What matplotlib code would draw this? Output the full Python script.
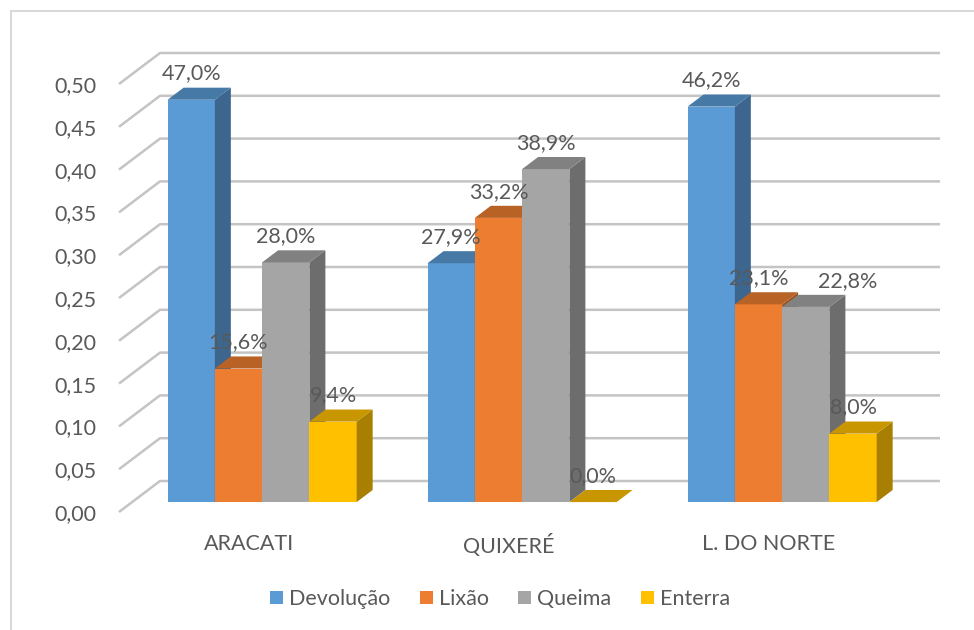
import matplotlib.pyplot as plt
import numpy as np
from matplotlib.patches import Polygon, Patch
from matplotlib.lines import Line2D

# survey data: share of answers per destination of empty containers
categories = ["ARACATI", "QUIXERÉ", "L. DO NORTE"]
series = ["Devolução", "Lixão", "Queima", "Enterra"]
devolucao = [0.470, 0.279, 0.462]
lixao = [0.156, 0.332, 0.231]
queima = [0.280, 0.389, 0.228]
enterra = [0.094, 0.000, 0.080]
yticks = [0.00, 0.05, 0.10, 0.15, 0.20, 0.25, 0.30, 0.35, 0.40, 0.45, 0.50]

values = [devolucao, lixao, queima, enterra]
colors = ["#5B9BD5", "#ED7D31", "#A5A5A5", "#FFC000"]

plt.rcParams['font.family'] = ['Lato', 'DejaVu Sans']
TXT = "#595959"
FS = 15.5

W, H = 974, 630
fig = plt.figure(figsize=(W / 100, H / 100), dpi=100)

# axes box in pixels: front plane from x=119, y=0 at 512
px_per_cat = 260.0
px_per_val = 856.0
x0_px, x1_px = 119, 940
y0_px, ytop_px = 512, 40
ax = fig.add_axes([x0_px / W, (H - y0_px) / H,
                   (x1_px - x0_px) / W, (y0_px - ytop_px) / H])
xmin = -0.5
xmax = xmin + (x1_px - x0_px) / px_per_cat
ax.set_xlim(xmin, xmax)
ax.set_ylim(0, (y0_px - ytop_px) / px_per_val)

# depth of the floor (front plane -> back wall) in data units
DX = 41 / px_per_cat
DY = 31 / px_per_val
# bars sit between these depth fractions
d_front, d_back = 0.32, 0.71


def shade(c, f):
    r, g, b = [int(c[i:i + 2], 16) for i in (1, 3, 5)]
    return (r * f / 255, g * f / 255, b * f / 255)


# back wall gridlines with the slanted part on the side wall
for v in yticks:
    ax.plot([xmin, xmin + DX, xmax], [v, v + DY, v + DY],
            color="#c4c4c4", lw=1.8, clip_on=False, zorder=1,
            solid_capstyle='butt')

n = len(series)
bw = 1.0 / (n + 1.5)
fx, fy = d_front * DX, d_front * DY
ddx, ddy = (d_back - d_front) * DX, (d_back - d_front) * DY

# nudge labels that would collide with a neighbour (points)
label_shift = {(2, 2): 30}

z = 2
for i in range(len(categories)):
    for j in range(n):
        v = values[j][i]
        c = colors[j]
        xl = i + (j - n / 2) * bw + fx
        xr = xl + bw
        yb = fy
        yt = yb + v
        ax.bar(xl, v, width=bw, bottom=yb, align='edge', color=c,
               linewidth=0, zorder=z)
        side = Polygon([(xr, yb), (xr + ddx, yb + ddy), (xr + ddx, yt + ddy), (xr, yt)],
                       closed=True, facecolor=shade(c, 0.66), lw=0, zorder=z)
        top = Polygon([(xl, yt), (xr, yt), (xr + ddx, yt + ddy), (xl + ddx, yt + ddy)],
                      closed=True, facecolor=shade(c, 0.78), lw=0, zorder=z)
        ax.add_patch(side)
        ax.add_patch(top)
        z += 1
        label = f"{v * 100:.1f}%".replace('.', ',')
        ax.annotate(label, (xl + bw / 2, yt + ddy),
                    xytext=(label_shift.get((i, j), 0), 3),
                    textcoords='offset points', ha='center', va='bottom',
                    fontsize=FS, color=TXT, zorder=50)

ax.set_yticks(yticks)
ax.set_yticklabels([f"{t:.2f}".replace('.', ',') for t in yticks])
ax.set_xticks(range(len(categories)))
ax.set_xticklabels(categories)
ax.tick_params(axis='y', length=0, pad=16, labelsize=FS, labelcolor=TXT)
ax.tick_params(axis='x', length=0, pad=16, labelsize=FS, labelcolor=TXT)
for s in ax.spines.values():
    s.set_visible(False)
ax.patch.set_visible(False)

handles = [Patch(facecolor=c, edgecolor='none') for c in colors]
fig.legend(handles, series, loc='center', bbox_to_anchor=(500 / W, (H - 599) / H),
           ncol=4, frameon=False, fontsize=FS, labelcolor=TXT,
           handlelength=0.6, handleheight=0.6, handletextpad=0.3,
           columnspacing=1.35)

# chart area border (left and top edges)
fig.add_artist(Line2D([11 / W, 11 / W], [0, (H - 11) / H], color="#d9d9d9", lw=1.5))
fig.add_artist(Line2D([11 / W, 1], [(H - 11) / H, (H - 11) / H], color="#d9d9d9", lw=1.5))

fig.savefig("out.png", dpi=100, facecolor="white")
